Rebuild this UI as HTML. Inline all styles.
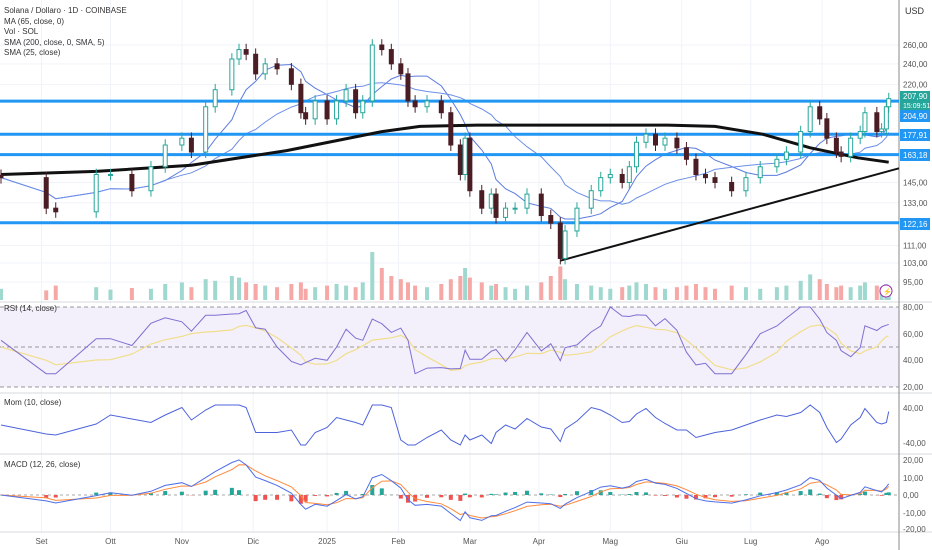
<!DOCTYPE html>
<html><head><meta charset="utf-8"><style>
body{margin:0;background:#fff;font-family:"Liberation Sans",sans-serif}
#c{position:relative;width:932px;height:550px;overflow:hidden}
svg text{font-family:"Liberation Sans",sans-serif}
</style></head><body>
<div id="c">
<svg id="s" width="932" height="550"></svg>
</div>
<script>
// ---- data ----
const days=[0,19,23,40,46,55,63,69,76,80,86,90,97,100,103,107,111,116,122,126,128,132,137,141,145,149,152,156,160,164,168,171,174,179,185,189,193,195,197,202,206,208,212,216,221,227,231,235,237,242,248,252,256,261,264,267,271,275,279,284,288,292,296,300,307,313,319,326,330,336,340,344,347,351,353,357,361,363,368,370,372,373];
const closes=[148,130,128,150,150,140,155,170,175,165,200,215,245,255,250,230,240,235,220,195,190,205,190,205,215,195,205,260,255,240,230,205,200,205,195,170,150,175,140,130,138,125,130,130,138,126,122,105,118,130,140,148,150,145,155,172,178,170,175,168,160,150,148,145,140,148,155,160,165,180,200,190,175,165,162,175,180,195,180,182,200,207];
const volumes=[14,12,18,16,13,15,14,20,22,16,26,24,30,28,22,20,18,16,20,22,14,16,18,20,18,16,22,60,40,30,26,22,18,16,20,26,30,40,28,22,18,20,16,14,18,22,30,42,26,20,18,16,14,16,18,22,20,16,14,16,18,20,16,14,18,16,14,16,18,24,32,26,20,16,18,16,18,22,18,16,20,14];
const sma200Days=[0,40,80,120,160,176,200,240,280,300,320,340,360,373];
const sma200Vals=[150,152,156,166,180,184,185,185,185,184,178,168,161,158];
const levels=[204.90,177.91,163.18,122.16];
const priceTicks=[260,240,220,145,133,111,103,95];
const monthLabels=["Set","Ott","Nov","Dic","2025","Feb","Mar","Apr","Mag","Giu","Lug","Ago"];
const monthDays=[17,46,76,106,137,167,197,226,256,286,315,345];
// ---- scales ----
const NS="http://www.w3.org/2000/svg",S=document.getElementById('s');
const X=d=>2.38*d+1;
const Y=p=>45+(Math.log(260)-Math.log(p))*235.4;
function el(t,a,p){const e=document.createElementNS(NS,t);for(const k in a)e.setAttribute(k,a[k]);(p||S).appendChild(e);return e;}
function txt(x,y,s,o){const e=el('text',Object.assign({x:x,y:y,'font-size':9,fill:'#333'},o||{}));e.textContent=s;return e;}
const n=Math.min(days.length,closes.length,volumes.length);
// grid
const g=el('g',{});
monthDays.forEach(d=>el('line',{x1:X(d),x2:X(d),y1:0,y2:532,stroke:'#f0f3fa'},g));
priceTicks.forEach(p=>el('line',{x1:0,x2:899,y1:Y(p),y2:Y(p),stroke:'#f0f3fa'},g));
// RSI pane bg
const rbg=el('rect',{x:0,y:307,width:899,height:80,fill:'#f3f0fb'});
// separators
[302,393,454,532].forEach(y=>el('line',{x1:0,x2:932,y1:y,y2:y,stroke:'#d6d8de'}));
el('line',{x1:899,x2:899,y1:0,y2:550,stroke:'#888'});
// volume
for(let i=0;i<n;i++){const up=i==0||closes[i]>=closes[i-1];const b=el('rect',{x:X(days[i])-2,y:300-volumes[i]*0.8,width:4,height:volumes[i]*0.8,fill:up?'#9fd8cf':'#f5a8a6'});}
// SMA helper
function sma(a,p){return a.map((v,i)=>{const s=a.slice(Math.max(0,i-p+1),i+1);return s.reduce((x,y)=>x+y,0)/s.length;});}
function poly(xs,ys,o,name){const pts=xs.map((x,i)=>x.toFixed(1)+','+ys[i].toFixed(1)).join(' ');const e=el('polyline',Object.assign({points:pts,fill:'none'},o));return e;}
const xs=days.slice(0,n).map(X),cl=closes.slice(0,n);
poly(xs,sma(cl,7).map(Y),{stroke:'#5b7be0','stroke-width':1},'sma-25');
poly(xs,sma(cl,16).map(Y),{stroke:'#6d8fe6','stroke-width':1},'ma-65');
// levels
levels.forEach(l=>{const e=el('line',{x1:0,x2:899,y1:Y(l),y2:Y(l),stroke:'#2196f3','stroke-width':3});});
poly(sma200Days.map(X),sma200Vals.map(Y),{stroke:'#111','stroke-width':3},'sma-200');
const tl=el('line',{x1:X(235),y1:Y(104),x2:899,y2:Y(154),stroke:'#111','stroke-width':2});
// candles
for(let i=0;i<n;i++){const o=i?closes[i-1]:closes[0]*1.01,c=closes[i],up=c>=o,col=up?'#26a69a':'#4a1d24';
const hi=Math.max(o,c)*1.025,lo=Math.min(o,c)*0.975,x=X(days[i]);
const w=el('line',{x1:x,x2:x,y1:Y(hi),y2:Y(lo),stroke:up?'#26a69a':'#4a1d24'});
const b=el('rect',{x:x-2,y:Y(Math.max(o,c)),width:4,height:Math.max(1,Y(Math.min(o,c))-Y(Math.max(o,c))),fill:up?'#fff':col,stroke:col,'stroke-width':1});}
// RSI
const rsi=cl.map((v,i)=>{let g1=0,l1=0;for(let j=Math.max(1,i-4);j<=i;j++){const d=cl[j]-cl[j-1];if(d>0)g1+=d;else l1-=d;}return g1+l1==0?50:100*g1/(g1+l1);});
const RY=v=>307+(80-v)*80/60;
[80,50,20].forEach(v=>el('line',{x1:0,x2:899,y1:RY(v),y2:RY(v),stroke:'#999','stroke-dasharray':'4,3'}));
poly(xs,sma(rsi,4).map(v=>RY(30+v*0.4)),{stroke:'#f1de8c','stroke-width':1.2},'rsi-ma');
poly(xs,rsi.map(v=>RY(30+v*0.5)),{stroke:'#7e6fd0','stroke-width':1},'rsi-line');
// Mom
const mom=cl.map((v,i)=>v-cl[Math.max(0,i-3)]);
poly(xs,mom.map(v=>425-Math.max(-20,Math.min(20,v*0.5))),{stroke:'#4d63db','stroke-width':1},'momentum-line');
// MACD
function ema(a,p){const k=2/(p+1);let e=a[0];return a.map(v=>e=v*k+e*(1-k));}
const macd=ema(cl,3).map((v,i)=>v-ema(cl,7)[i]),sig=ema(macd,3);
const MY=v=>495-v*1.3;
el('line',{x1:0,x2:899,y1:495,y2:495,stroke:'#aaa','stroke-dasharray':'3,3'});
for(let i=0;i<n;i++){const h=macd[i]-sig[i];const b=el('rect',{x:xs[i]-2,y:Math.min(495,MY(h)),width:4,height:Math.abs(MY(h)-495),fill:h>=0?'#26a69a':'#ef5350'});}
poly(xs,sig.map(MY),{stroke:'#ff8a3d','stroke-width':1},'macd-signal');
poly(xs,macd.map(MY),{stroke:'#4d6ee8','stroke-width':1},'macd-line');
// axis labels
txt(905,14,'USD',{'font-size':9});
priceTicks.forEach(p=>txt(903,Y(p)+3,p.toFixed(2).replace('.',','),{'font-size':8,fill:'#555'}));
[[80,307],[60,334],[40,360],[20,387]].forEach(a=>txt(903,a[1]+3,a[0].toFixed(2).replace('.',','),{'font-size':8,fill:'#555'}));
[['40,00',408],['-40,00',443],['20,00',460],['10,00',478],['0,00',495],['-10,00',513],['-20,00',529]].forEach(a=>txt(903,a[1]+3,a[0],{'font-size':8,fill:'#555'}));
monthLabels.forEach((m,i)=>txt(X(monthDays[i]),544,m,{'font-size':8,fill:'#555','text-anchor':'middle'}));
// price badges
el('rect',{x:900,y:91,width:30,height:20,fill:'#26a69a'});
txt(903,99,'207,90',{'font-size':8,fill:'#fff'});txt(903,108,'15:09:51',{'font-size':7,fill:'#fff'});
[[204.90,116],[177.91,135],[163.18,155],[122.16,224]].forEach(a=>{el('rect',{x:900,y:a[1]-6,width:30,height:12,fill:'#2196f3'});txt(903,a[1]+3,a[0].toFixed(2).replace('.',','),{'font-size':8,fill:'#fff'});});
// legend
[['Solana / Dollaro · 1D · COINBASE',13],['MA (65, close, 0)',24],['Vol · SOL',34],['SMA (200, close, 0, SMA, 5)',45],['SMA (25, close)',55]].forEach(a=>txt(4,a[1],a[0],{'font-size':8,fill:'#333'}));
txt(4,311,'RSI (14, close)',{'font-size':8});txt(4,405,'Mom (10, close)',{'font-size':8});txt(4,467,'MACD (12, 26, close)',{'font-size':8});
el('circle',{cx:886,cy:291,r:6,fill:'#fff',stroke:'#9c27b0'});txt(883,294,'⚡',{'font-size':7,fill:'#9c27b0'});
</script>
</body></html>
